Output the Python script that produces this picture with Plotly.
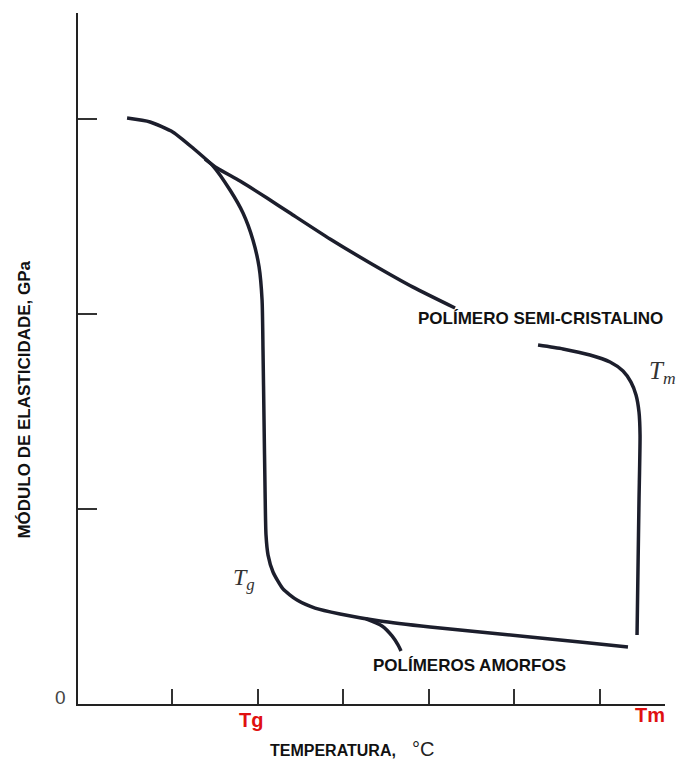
import plotly.graph_objects as go

# Modulus vs temperature: glassy plateau, glass transition (Tg) and rubbery plateau,
# plus the semi-crystalline branch that holds up until melting (Tm).
temp_main = [0.474, 0.743, 1.012, 1.246, 1.480, 1.678, 1.830, 1.947, 2.018, 2.053,
             2.064, 2.076, 2.088, 2.099, 2.123, 2.181, 2.298, 2.462, 2.673, 2.965,
             3.433, 4.018, 4.602, 5.187, 5.772, 6.333]
mod_main = [3.005, 2.985, 2.933, 2.851, 2.759, 2.636, 2.518, 2.379, 2.241, 2.072,
            1.815, 1.456, 1.097, 0.867, 0.764, 0.677, 0.590, 0.533, 0.492, 0.462,
            0.426, 0.395, 0.369, 0.344, 0.318, 0.292]

temp_amorph = [3.269, 3.456, 3.573, 3.643, 3.678]
mod_amorph = [0.436, 0.400, 0.349, 0.303, 0.272]

temp_cryst = [1.386, 1.526, 1.795, 2.111, 2.380, 2.848, 3.316, 3.819, 4.310, None,
              5.281, 5.573, 5.889, 6.123, 6.275, 6.368, 6.427, 6.462, 6.474, 6.462,
              6.450, 6.439]
mod_cryst = [2.795, 2.749, 2.682, 2.595, 2.518, 2.385, 2.262, 2.138, 2.031, None,
             1.841, 1.821, 1.790, 1.754, 1.708, 1.651, 1.585, 1.497, 1.379, 1.046,
             0.687, 0.354]

x_ticks = [1, 2, 3, 4, 5, 6]
y_ticks = [1, 2, 3]
tg_value = 2.0
tm_value = 6.59

ink = "#1c1e2c"
line_style = dict(color=ink, width=3.5, shape="spline", smoothing=0.6)

fig = go.Figure()
for xs, ys in [(temp_main, mod_main), (temp_amorph, mod_amorph), (temp_cryst, mod_cryst)]:
    fig.add_trace(go.Scatter(x=xs, y=ys, mode="lines", line=line_style,
                             connectgaps=False, hoverinfo="skip", showlegend=False))

sans = "Liberation Sans"
serif = "Liberation Serif"

annotations = [
    dict(x=5.304, y=1.979, xref="x", yref="y", text="<b>POLÍMERO SEMI-CRISTALINO</b>",
         font=dict(family=sans, size=17, color="#111"), showarrow=False),
    dict(x=4.485, y=0.195, xref="x", yref="y", text="<b>POLÍMEROS AMORFOS</b>",
         font=dict(family=sans, size=17, color="#111"), showarrow=False),
    dict(x=6.55, y=1.70, xref="x", yref="y", xanchor="left",
         text="<i>T</i><sub><i>m</i></sub>",
         font=dict(family=serif, size=25, color="#333"), showarrow=False),
    dict(x=1.69, y=0.64, xref="x", yref="y", xanchor="left",
         text="<i>T</i><sub><i>g</i></sub>",
         font=dict(family=serif, size=24, color="#333"), showarrow=False),
    dict(x=tg_value, y=0, xref="x", yref="paper", yshift=-29, xshift=-7,
         text="<b>Tg</b>", font=dict(family=sans, size=20, color="#e01010"), showarrow=False),
    dict(x=tm_value, y=0, xref="x", yref="paper", yshift=-24,
         text="<b>Tm</b>", font=dict(family=sans, size=20, color="#e01010"), showarrow=False),
    dict(x=-0.1, y=0, xref="x", yref="y", xanchor="right", xshift=-10, yshift=7,
         text="0", font=dict(family=sans, size=19, color="#444"), showarrow=False),
    dict(x=-0.111, y=0.441, xref="paper", yref="paper", textangle=-90,
         text="<b>MÓDULO DE ELASTICIDADE, GPa</b>",
         font=dict(family=sans, size=17, color="#111"), showarrow=False),
    dict(x=0.324, y=-0.083, xref="paper", yref="paper", xanchor="left",
         text="<b>TEMPERATURA,</b>",
         font=dict(family=sans, size=16, color="#111"), showarrow=False),
    dict(x=0.566, y=-0.084, xref="paper", yref="paper", xanchor="left",
         text="°C", font=dict(family=sans, size=20, color="#222"), showarrow=False),
]

fig.update_layout(
    width=676, height=762,
    margin=dict(l=78, r=11, t=13, b=58),
    paper_bgcolor="white", plot_bgcolor="white",
    annotations=annotations,
    xaxis=dict(range=[-0.1, 6.766], showgrid=False, zeroline=False,
               showline=True, linecolor="#222", linewidth=2,
               tickvals=x_ticks, ticks="inside", ticklen=15, tickwidth=1.5,
               tickcolor="#333", showticklabels=False),
    yaxis=dict(range=[0, 3.544], showgrid=False, zeroline=False,
               showline=True, linecolor="#222", linewidth=2,
               tickvals=y_ticks, ticks="inside", ticklen=19, tickwidth=1.5,
               tickcolor="#333", showticklabels=False),
)

fig.write_html("out.html")
